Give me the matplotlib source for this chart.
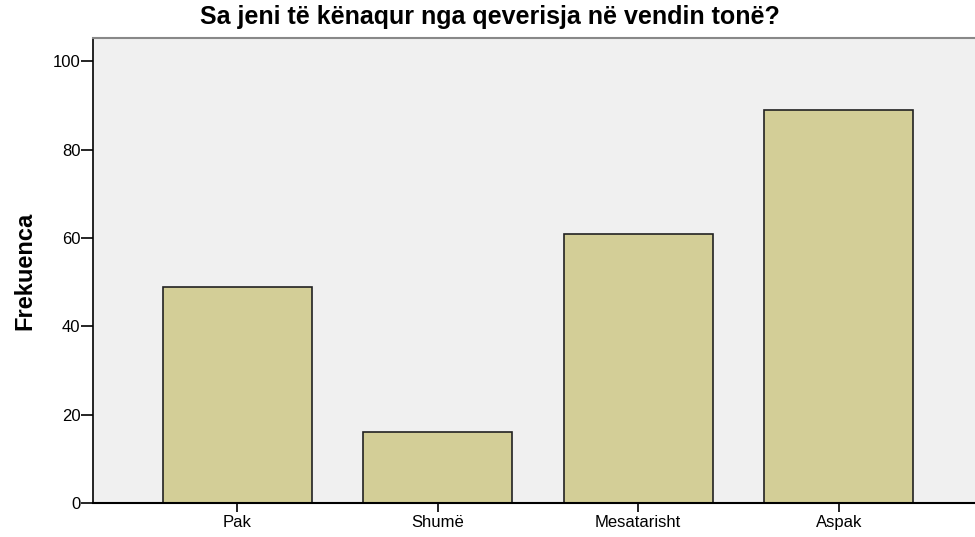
import matplotlib
matplotlib.use("Agg")
import matplotlib.pyplot as plt

categories = ["Pak", "Shumë", "Mesatarisht", "Aspak"]
counts = [49, 16, 61, 89]
yticks = [0, 20, 40, 60, 80, 100]

plt.rcParams["font.family"] = ["Liberation Sans", "DejaVu Sans"]

fig = plt.figure(figsize=(9.75, 5.37), dpi=100)
ax = fig.add_axes([0.0954, 0.0633, 0.9046, 0.866])
ax.set_facecolor("#f0f0f0")

x = range(len(categories))
ax.bar(x, counts, width=0.743, color="#d3ce97", edgecolor="#222222", linewidth=1.2, zorder=2)

ax.set_xlim(-0.72, 3.68)
ax.set_ylim(0, 105.3)
ax.set_xticks(list(x))
ax.set_xticklabels(categories, fontsize=12)
ax.set_yticks(yticks)
ax.tick_params(axis="y", labelsize=12, length=8.5, width=1.2, direction="out", pad=0.5)
ax.tick_params(axis="x", length=6.5, width=1.2, direction="out", pad=2)

ax.spines["right"].set_visible(False)
ax.spines["top"].set_color("#888888")
ax.spines["top"].set_linewidth(1.5)
ax.spines["left"].set_linewidth(1.2)
ax.spines["bottom"].set_linewidth(1.5)

ax.set_ylabel("Frekuenca", fontsize=17, fontweight="bold", labelpad=12)
fig.text(0.503, 0.968, "Sa jeni të kënaqur nga qeverisja në vendin tonë?",
         ha="center", va="center", fontsize=18, fontweight="bold")

fig.savefig("out.png", dpi=100)
